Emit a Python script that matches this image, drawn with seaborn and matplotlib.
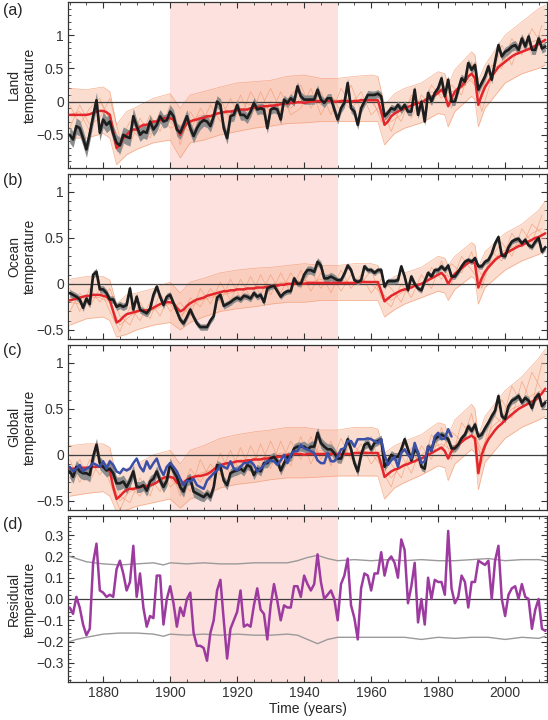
import numpy as np
import matplotlib
matplotlib.use("Agg")
import matplotlib.pyplot as plt
import seaborn as sns
from matplotlib.ticker import MultipleLocator, FuncFormatter, FixedLocator

sns.set_style("ticks")
plt.rcParams["font.family"] = ["Liberation Sans", "DejaVu Sans"]
plt.rcParams.update({
    "xtick.direction": "in",
    "ytick.direction": "in",
    "xtick.top": True,
    "ytick.right": True,
    "xtick.major.size": 4,
    "ytick.major.size": 4,
    "xtick.minor.size": 2,
    "ytick.minor.size": 2,
    "xtick.major.width": 0.8,
    "ytick.major.width": 0.8,
    "xtick.minor.width": 0.6,
    "ytick.minor.width": 0.6,
    "axes.linewidth": 0.9,
    "axes.edgecolor": "#333333",
    "xtick.color": "#333333",
    "ytick.color": "#333333",
    "font.size": 10,
})

# ---- data -------------------------------------------------------------
years = np.arange(1870, 2013)          # annual, 1870-2012
blue_years = np.arange(1870, 1985)     # second global estimate ends 1984
member_years = np.arange(1870, 2012, 3)

# observed land (a)
land_obs = [
    -0.50, -0.57, -0.37, -0.40, -0.55, -0.72, -0.48, -0.22, 0.02, -0.47,
    -0.27, -0.35, -0.30, -0.48, -0.62, -0.66, -0.50, -0.53, -0.55, -0.22,
    -0.37, -0.50, -0.45, -0.47, -0.30, -0.42, -0.35, -0.22, -0.30, -0.28,
    -0.15, -0.22, -0.42, -0.47, -0.35, -0.22, -0.40, -0.52, -0.40, -0.32,
    -0.28, -0.30, -0.37, -0.22, 0.00, -0.05, -0.40, -0.55, -0.22, -0.20,
    -0.05, -0.20, -0.20, -0.25, -0.15, -0.02, -0.12, -0.10, -0.12, -0.40,
    -0.12, -0.10, -0.12, -0.27, 0.03, -0.02, 0.05, 0.00, 0.23, 0.08,
    0.03, 0.03, 0.03, 0.03, 0.18, 0.03, -0.02, 0.05, 0.05, -0.12,
    -0.27, -0.10, -0.02, 0.28, -0.10, -0.15, -0.35, -0.10, 0.00, 0.10,
    0.10, 0.10, 0.12, 0.08, -0.22, -0.17, -0.10, -0.12, -0.05, -0.12,
    -0.05, -0.15, -0.15, 0.18, -0.20, 0.00, -0.30, 0.13, 0.00, 0.13,
    0.20, 0.35, 0.08, 0.33, 0.00, 0.00, 0.18, 0.35, 0.30, 0.58,
    0.48, 0.55, 0.18, 0.28, 0.38, 0.53, 0.33, 0.60, 0.85, 0.68,
    0.75, 0.78, 0.83, 0.85, 0.78, 0.95, 0.83, 0.98, 0.78, 0.78,
    0.95, 0.80, 0.83,
]
land_mean = [
    -0.20, -0.20, -0.20, -0.20, -0.20, -0.20, -0.19, -0.17, -0.15, -0.14,
    -0.14, -0.16, -0.20, -0.45, -0.70, -0.65, -0.55, -0.50, -0.45, -0.42,
    -0.42, -0.38, -0.35, -0.35, -0.33, -0.30, -0.30, -0.28, -0.25, -0.25,
    -0.25, -0.27, -0.40, -0.50, -0.40, -0.33, -0.30, -0.28, -0.27, -0.25,
    -0.25, -0.22, -0.22, -0.20, -0.18, -0.17, -0.16, -0.15, -0.15, -0.14,
    -0.13, -0.12, -0.12, -0.12, -0.10, -0.09, -0.08, -0.08, -0.07, -0.07,
    -0.06, -0.06, -0.05, -0.04, -0.03, -0.03, -0.02, -0.02, -0.01, -0.01,
    -0.02, -0.01, 0.00, 0.00, 0.01, 0.00, 0.00, 0.01, 0.01, 0.00,
    0.00, 0.01, 0.01, 0.01, 0.00, 0.01, 0.01, 0.02, 0.02, 0.02,
    0.02, 0.02, 0.02, -0.15, -0.35, -0.30, -0.22, -0.18, -0.15, -0.12,
    -0.10, -0.08, -0.06, -0.04, -0.02, -0.02, 0.02, 0.05, 0.07, 0.10,
    0.13, 0.18, 0.10, -0.07, 0.05, 0.15, 0.20, 0.23, 0.30, 0.38,
    0.42, 0.35, -0.05, 0.10, 0.22, 0.30, 0.38, 0.45, 0.52, 0.56,
    0.60, 0.64, 0.68, 0.71, 0.73, 0.75, 0.77, 0.79, 0.81, 0.84,
    0.87, 0.90, 0.93,
]
# observed ocean (b)
ocean_obs = [
    -0.10, -0.12, -0.14, -0.17, -0.26, -0.16, -0.22, 0.10, 0.13, -0.06,
    -0.06, -0.10, -0.17, -0.17, -0.25, -0.23, -0.25, -0.23, -0.05, -0.28,
    -0.14, -0.28, -0.30, -0.32, -0.27, -0.12, -0.03, -0.14, -0.23, -0.14,
    -0.12, -0.21, -0.30, -0.39, -0.43, -0.36, -0.28, -0.36, -0.43, -0.47,
    -0.47, -0.47, -0.40, -0.35, -0.15, -0.12, -0.24, -0.22, -0.20, -0.17,
    -0.15, -0.17, -0.13, -0.14, -0.16, -0.10, -0.14, -0.12, -0.20, -0.05,
    -0.03, -0.02, -0.08, -0.14, -0.10, -0.08, -0.08, 0.06, 0.00, 0.00,
    0.10, 0.15, 0.15, 0.13, 0.24, 0.20, 0.06, 0.06, 0.08, 0.06,
    0.04, 0.04, 0.11, 0.20, 0.15, 0.04, 0.02, 0.04, 0.19, 0.15,
    0.15, 0.12, 0.15, 0.15, -0.03, 0.03, 0.03, 0.03, 0.04, 0.19,
    0.08, -0.07, 0.08, 0.00, -0.05, -0.07, 0.03, 0.12, 0.08, 0.15,
    0.15, 0.19, 0.15, 0.20, 0.08, 0.08, 0.13, 0.19, 0.24, 0.26,
    0.24, 0.28, 0.19, 0.19, 0.24, 0.26, 0.33, 0.44, 0.51, 0.31,
    0.30, 0.40, 0.46, 0.48, 0.49, 0.44, 0.48, 0.42, 0.40, 0.46,
    0.50, 0.35, 0.40,
]
ocean_mean = [
    -0.18, -0.17, -0.16, -0.15, -0.14, -0.13, -0.13, -0.12, -0.12, -0.12,
    -0.13, -0.14, -0.18, -0.30, -0.42, -0.40, -0.36, -0.33, -0.32, -0.31,
    -0.30, -0.29, -0.29, -0.29, -0.28, -0.26, -0.24, -0.22, -0.21, -0.20,
    -0.20, -0.21, -0.26, -0.30, -0.28, -0.24, -0.21, -0.19, -0.17, -0.16,
    -0.15, -0.13, -0.12, -0.11, -0.10, -0.09, -0.08, -0.08, -0.07, -0.07,
    -0.06, -0.06, -0.06, -0.05, -0.05, -0.05, -0.04, -0.04, -0.04, -0.03,
    -0.03, -0.02, -0.02, -0.01, -0.01, 0.00, 0.00, 0.00, 0.01, 0.01,
    0.00, 0.01, 0.01, 0.01, 0.01, 0.01, 0.01, 0.01, 0.01, 0.01,
    0.01, 0.01, 0.01, 0.01, 0.01, 0.01, 0.02, 0.02, 0.02, 0.02,
    0.02, 0.02, 0.02, -0.08, -0.19, -0.16, -0.13, -0.11, -0.09, -0.07,
    -0.06, -0.05, -0.04, -0.02, -0.01, 0.00, 0.02, 0.04, 0.06, 0.08,
    0.10, 0.12, 0.08, 0.00, 0.06, 0.11, 0.14, 0.17, 0.20, 0.23,
    0.25, 0.22, -0.04, 0.06, 0.13, 0.18, 0.22, 0.26, 0.29, 0.31,
    0.33, 0.35, 0.37, 0.39, 0.41, 0.42, 0.44, 0.46, 0.48, 0.50,
    0.51, 0.53, 0.55,
]
# observed global (c), black and blue estimates
global_obs = [
    -0.18, -0.24, -0.13, -0.18, -0.20, -0.20, -0.22, -0.02, 0.11, -0.09,
    -0.13, -0.17, -0.15, -0.20, -0.31, -0.31, -0.29, -0.35, -0.28, -0.18,
    -0.35, -0.35, -0.33, -0.39, -0.29, -0.26, -0.18, -0.28, -0.35, -0.28,
    -0.09, -0.18, -0.24, -0.35, -0.40, -0.28, -0.26, -0.40, -0.42, -0.44,
    -0.46, -0.42, -0.46, -0.35, -0.11, -0.13, -0.28, -0.33, -0.20, -0.18,
    -0.17, -0.15, -0.18, -0.11, -0.13, -0.22, -0.15, -0.18, -0.09, -0.09,
    -0.04, -0.02, -0.07, -0.17, -0.09, -0.02, -0.02, 0.07, 0.09, 0.09,
    0.09, 0.06, 0.09, 0.09, 0.24, 0.13, 0.09, 0.06, 0.06, 0.02,
    -0.04, -0.04, 0.06, 0.17, 0.06, -0.09, -0.18, 0.00, 0.11, 0.13,
    0.06, 0.13, 0.15, 0.17, -0.13, -0.07, 0.00, -0.02, -0.02, 0.06,
    0.17, 0.06, -0.06, 0.06, 0.02, -0.13, -0.15, 0.09, 0.06, 0.17,
    0.20, 0.22, 0.20, 0.17, 0.07, 0.07, 0.11, 0.18, 0.22, 0.31,
    0.26, 0.33, 0.20, 0.22, 0.29, 0.35, 0.42, 0.48, 0.64, 0.42,
    0.39, 0.53, 0.59, 0.61, 0.64, 0.57, 0.62, 0.59, 0.51, 0.62,
    0.66, 0.53, 0.57,
]
global_obs_alt = [
    -0.13, -0.18, -0.15, -0.11, -0.18, -0.15, -0.13, -0.09, -0.11, -0.13,
    -0.07, -0.15, -0.07, -0.11, -0.18, -0.20, -0.15, -0.17, -0.15, -0.09,
    -0.04, -0.13, -0.18, -0.07, -0.15, -0.09, -0.04, -0.15, -0.22, -0.13,
    -0.09, -0.13, -0.18, -0.26, -0.33, -0.28, -0.29, -0.26, -0.33, -0.35,
    -0.37, -0.28, -0.24, -0.20, -0.17, -0.11, -0.13, -0.15, -0.07, -0.15,
    -0.17, -0.13, -0.09, -0.09, -0.07, -0.11, -0.18, -0.15, -0.11, -0.07,
    -0.06, -0.07, -0.11, -0.06, 0.00, -0.09, 0.00, 0.04, 0.04, 0.11,
    0.07, 0.06, 0.04, 0.02, -0.06, -0.09, -0.09, 0.02, -0.07, -0.07,
    -0.02, 0.06, 0.07, 0.15, 0.15, 0.09, 0.17, 0.17, 0.17, 0.18,
    0.17, 0.15, 0.13, 0.17, 0.00, -0.11, -0.06, -0.02, -0.13, 0.02,
    0.06, 0.00, -0.04, 0.13, 0.02, -0.09, -0.07, 0.09, 0.04, 0.20,
    0.24, 0.17, 0.18, 0.28, 0.20,
]
global_mean = [
    -0.15, -0.15, -0.15, -0.15, -0.14, -0.14, -0.14, -0.13, -0.13, -0.13,
    -0.13, -0.14, -0.18, -0.35, -0.48, -0.45, -0.41, -0.38, -0.37, -0.37,
    -0.36, -0.35, -0.34, -0.34, -0.33, -0.32, -0.30, -0.27, -0.25, -0.24,
    -0.24, -0.25, -0.30, -0.33, -0.30, -0.27, -0.25, -0.24, -0.23, -0.23,
    -0.22, -0.21, -0.19, -0.16, -0.13, -0.11, -0.10, -0.09, -0.09, -0.08,
    -0.07, -0.07, -0.07, -0.06, -0.06, -0.05, -0.05, -0.05, -0.04, -0.04,
    -0.03, -0.03, -0.02, -0.02, -0.01, 0.00, 0.00, 0.01, 0.01, 0.01,
    0.00, 0.01, 0.01, 0.01, 0.01, 0.01, 0.01, 0.01, 0.01, 0.01,
    0.01, 0.01, 0.01, 0.01, 0.01, 0.02, 0.02, 0.02, 0.02, 0.02,
    0.02, 0.02, 0.02, -0.10, -0.24, -0.21, -0.18, -0.16, -0.15, -0.13,
    -0.11, -0.10, -0.08, -0.07, -0.05, -0.04, -0.02, 0.00, 0.02, 0.04,
    0.06, 0.08, 0.04, -0.04, 0.04, 0.08, 0.11, 0.14, 0.17, 0.19,
    0.21, 0.18, -0.20, 0.00, 0.10, 0.17, 0.22, 0.27, 0.31, 0.34,
    0.38, 0.41, 0.44, 0.47, 0.50, 0.52, 0.54, 0.56, 0.58, 0.60,
    0.63, 0.67, 0.72,
]
# observational uncertainty half-width, one value per decade (1870s..2010s)
land_unc = [0.12, 0.12, 0.10, 0.10, 0.09, 0.08, 0.07, 0.07, 0.07, 0.06,
            0.06, 0.06, 0.06, 0.07, 0.07]
ocean_unc = [0.04, 0.04, 0.04, 0.035, 0.035, 0.035, 0.03, 0.045, 0.03, 0.03,
             0.03, 0.03, 0.03, 0.03, 0.03]
global_unc = [0.07, 0.07, 0.06, 0.06, 0.05, 0.05, 0.05, 0.06, 0.05, 0.045,
              0.04, 0.04, 0.04, 0.04, 0.04]

# spread of the model ensemble
env_years = [1870, 1875, 1880, 1882, 1884, 1887, 1890, 1895, 1900, 1903,
             1906, 1910, 1915, 1920, 1925, 1930, 1935, 1940, 1945, 1950,
             1955, 1960, 1962, 1964, 1967, 1970, 1975, 1980, 1982, 1983,
             1985, 1990, 1991, 1992, 1994, 2000, 2005, 2010, 2012]
land_lo = [-0.55, -0.55, -0.48, -0.55, -0.95, -0.80, -0.72, -0.62, -0.58, -0.85,
           -0.62, -0.58, -0.50, -0.45, -0.40, -0.37, -0.33, -0.32, -0.30, -0.30,
           -0.30, -0.30, -0.30, -0.65, -0.48, -0.40, -0.32, -0.18, -0.20, -0.38,
           -0.15, 0.08, 0.02, -0.38, -0.10, 0.28, 0.42, 0.50, 0.55]
land_hi = [0.20, 0.18, 0.22, 0.15, -0.35, -0.15, -0.08, 0.05, 0.12, -0.10,
           0.10, 0.15, 0.22, 0.28, 0.30, 0.32, 0.38, 0.40, 0.35, 0.35,
           0.38, 0.40, 0.38, -0.05, 0.12, 0.20, 0.28, 0.45, 0.42, 0.25,
           0.48, 0.75, 0.70, 0.32, 0.55, 1.00, 1.20, 1.40, 1.45]
ocean_lo = [-0.45, -0.38, -0.36, -0.40, -0.58, -0.55, -0.50, -0.45, -0.42, -0.50,
            -0.42, -0.36, -0.30, -0.27, -0.25, -0.22, -0.20, -0.20, -0.18, -0.18,
            -0.18, -0.18, -0.18, -0.36, -0.28, -0.22, -0.15, -0.08, -0.10, -0.18,
            -0.06, 0.08, 0.05, -0.22, -0.04, 0.15, 0.25, 0.32, 0.35]
ocean_hi = [0.05, 0.08, 0.08, 0.04, -0.22, -0.12, -0.10, -0.05, 0.02, -0.10,
            0.02, 0.06, 0.12, 0.15, 0.17, 0.18, 0.20, 0.22, 0.20, 0.20,
            0.22, 0.22, 0.20, 0.00, 0.08, 0.12, 0.18, 0.30, 0.28, 0.20,
            0.30, 0.45, 0.42, 0.18, 0.35, 0.55, 0.65, 0.80, 0.90]
global_lo = [-0.45, -0.42, -0.40, -0.45, -0.62, -0.60, -0.56, -0.52, -0.48, -0.58,
             -0.48, -0.44, -0.36, -0.32, -0.30, -0.27, -0.25, -0.25, -0.24, -0.23,
             -0.23, -0.23, -0.23, -0.48, -0.36, -0.30, -0.22, -0.12, -0.14, -0.28,
             -0.10, 0.06, 0.02, -0.38, -0.08, 0.18, 0.30, 0.38, 0.42]
global_hi = [0.10, 0.12, 0.12, 0.08, -0.25, -0.15, -0.10, 0.00, 0.05, -0.10,
             0.05, 0.10, 0.18, 0.22, 0.25, 0.27, 0.30, 0.30, 0.27, 0.27,
             0.30, 0.30, 0.28, 0.02, 0.10, 0.15, 0.22, 0.35, 0.33, 0.22,
             0.38, 0.55, 0.50, 0.20, 0.42, 0.70, 0.85, 1.05, 1.15]

# a few individual ensemble members (every third year)
land_members = [
    [-0.05, -0.35, -0.10, 0.05, -0.30, -0.80, -0.40, -0.55, -0.20, -0.45,
     -0.05, -0.65, -0.15, -0.40, -0.05, -0.30, 0.05, -0.25, 0.15, -0.10,
     0.20, -0.15, 0.10, 0.25, -0.10, 0.15, -0.20, 0.20, -0.05, 0.15,
     -0.20, -0.05, -0.45, -0.05, -0.25, 0.10, -0.05, 0.35, -0.10, 0.40,
     0.30, 0.15, 0.55, 0.50, 0.95, 0.70, 1.10, 0.85],
    [-0.40, -0.05, -0.35, -0.25, 0.05, -0.55, -0.65, -0.25, -0.50, -0.15,
     -0.40, -0.35, -0.45, -0.10, -0.35, 0.05, -0.30, 0.10, -0.25, 0.15,
     -0.20, 0.15, -0.20, -0.10, 0.20, -0.20, 0.10, -0.15, 0.25, -0.15,
     0.10, -0.30, -0.10, -0.30, 0.10, -0.15, 0.25, 0.05, 0.25, 0.10,
     0.60, -0.15, 0.35, 0.85, 0.55, 1.00, 0.70, 1.15],
    [-0.20, -0.15, -0.45, 0.00, -0.25, -0.60, -0.30, -0.35, -0.55, -0.20,
     -0.30, -0.45, -0.30, -0.20, -0.25, -0.15, -0.20, 0.00, -0.05, -0.20,
     0.00, -0.05, -0.10, 0.05, 0.10, -0.05, 0.05, 0.00, -0.10, 0.05,
     0.00, -0.20, -0.30, -0.20, 0.05, -0.05, 0.15, 0.10, 0.15, 0.20,
     0.35, 0.05, 0.45, 0.60, 0.75, 0.80, 0.90, 0.95],
]
ocean_members = [
    [-0.30, -0.10, -0.25, -0.05, -0.30, -0.52, -0.25, -0.40, -0.20, -0.35,
     -0.10, -0.40, -0.15, -0.25, -0.05, -0.20, 0.05, -0.15, 0.08, -0.12,
     0.10, -0.10, 0.12, -0.05, 0.15, -0.05, 0.12, -0.08, 0.10, 0.00,
     0.15, -0.15, -0.25, 0.00, -0.15, 0.10, -0.05, 0.25, 0.00, 0.30,
     0.15, 0.00, 0.35, 0.25, 0.55, 0.40, 0.65, 0.55],
    [-0.05, -0.30, -0.05, -0.20, -0.05, -0.35, -0.45, -0.20, -0.38, -0.10,
     -0.30, -0.20, -0.35, -0.05, -0.22, 0.02, -0.18, 0.05, -0.15, 0.10,
     -0.12, 0.12, -0.10, 0.15, -0.08, 0.12, -0.10, 0.15, -0.05, 0.10,
     -0.10, 0.05, -0.05, -0.20, 0.08, -0.10, 0.18, 0.05, 0.22, 0.12,
     0.35, -0.05, 0.30, 0.45, 0.30, 0.60, 0.45, 0.75],
    [-0.20, -0.22, -0.15, -0.15, -0.20, -0.45, -0.35, -0.30, -0.30, -0.25,
     -0.22, -0.35, -0.25, -0.18, -0.15, -0.12, -0.10, -0.05, -0.05, 0.00,
     -0.05, 0.02, 0.00, 0.05, 0.02, 0.05, 0.00, 0.05, 0.00, 0.05,
     0.00, -0.10, -0.18, -0.10, -0.02, 0.00, 0.08, 0.10, 0.08, 0.18,
     0.25, 0.10, 0.25, 0.35, 0.40, 0.45, 0.55, 0.60],
]
global_members = [
    [-0.25, -0.05, -0.30, -0.05, -0.30, -0.60, -0.35, -0.45, -0.25, -0.40,
     -0.10, -0.45, -0.15, -0.30, -0.10, -0.22, 0.05, -0.20, 0.10, -0.12,
     0.15, -0.10, 0.15, -0.05, 0.20, -0.05, 0.15, -0.10, 0.15, 0.00,
     0.20, -0.15, -0.35, 0.00, -0.20, 0.10, -0.05, 0.30, -0.05, 0.35,
     0.20, 0.00, 0.45, 0.35, 0.75, 0.55, 0.90, 0.70],
    [-0.05, -0.30, -0.05, -0.22, -0.05, -0.45, -0.52, -0.25, -0.45, -0.12,
     -0.35, -0.25, -0.40, -0.05, -0.28, 0.02, -0.22, 0.08, -0.18, 0.12,
     -0.15, 0.15, -0.12, 0.20, -0.10, 0.15, -0.12, 0.18, -0.05, 0.12,
     -0.10, 0.05, -0.10, -0.25, 0.08, -0.15, 0.22, 0.05, 0.25, 0.15,
     0.45, -0.10, 0.35, 0.60, 0.40, 0.80, 0.55, 1.00],
    [-0.18, -0.20, -0.15, -0.12, -0.22, -0.50, -0.40, -0.35, -0.33, -0.28,
     -0.25, -0.38, -0.28, -0.20, -0.17, -0.12, -0.10, -0.05, -0.05, 0.00,
     -0.03, 0.02, 0.00, 0.05, 0.02, 0.05, 0.00, 0.05, 0.00, 0.05,
     0.02, -0.12, -0.25, -0.12, -0.05, 0.00, 0.08, 0.12, 0.05, 0.20,
     0.28, 0.05, 0.30, 0.40, 0.50, 0.55, 0.65, 0.70],
]

# residual (d) and its 5-95% range
residual = [
    -0.04, -0.07, 0.01, -0.04, -0.12, -0.17, -0.14, 0.17, 0.26, 0.04,
    0.03, 0.01, 0.02, 0.01, 0.14, 0.18, 0.12, 0.04, 0.08, 0.25,
    0.01, 0.12, -0.04, -0.13, -0.08, -0.09, 0.11, 0.11, -0.12, 0.00,
    0.06, -0.02, -0.13, -0.04, -0.08, 0.00, 0.03, -0.16, -0.22, -0.22,
    -0.23, -0.29, -0.16, -0.10, 0.04, 0.09, -0.10, -0.28, -0.14, -0.10,
    -0.06, 0.04, -0.13, -0.12, -0.13, -0.03, 0.05, -0.05, -0.07, -0.19,
    -0.03, 0.07, -0.01, -0.10, -0.03, -0.04, -0.04, 0.06, 0.06, 0.01,
    0.11, 0.07, 0.04, 0.07, 0.21, 0.08, 0.00, 0.02, 0.04, 0.00,
    -0.10, 0.07, 0.11, 0.19, -0.03, -0.09, -0.19, 0.05, 0.12, 0.11,
    0.04, 0.12, 0.12, 0.22, 0.11, 0.18, 0.20, 0.17, 0.10, 0.28,
    0.23, -0.02, 0.06, 0.17, -0.11, 0.00, -0.12, 0.10, 0.00, 0.09,
    0.08, 0.08, 0.02, 0.32, 0.05, -0.02, 0.01, 0.11, 0.08, -0.04,
    0.08, 0.08, 0.18, 0.17, 0.16, 0.18, 0.00, 0.18, 0.25, 0.00,
    -0.08, 0.02, 0.05, 0.06, 0.00, 0.07, 0.01, 0.00, -0.14, -0.05,
    0.00, -0.14, -0.15,
]
bound_years = [1870, 1872, 1875, 1880, 1885, 1890, 1895, 1898, 1900, 1905,
               1910, 1915, 1920, 1925, 1930, 1935, 1938, 1941, 1944, 1947,
               1950, 1955, 1960, 1965, 1970, 1975, 1980, 1985, 1990, 1995,
               2000, 2005, 2010, 2012]
bound_hi = [0.20, 0.19, 0.175, 0.165, 0.16, 0.165, 0.17, 0.16, 0.17, 0.165,
            0.17, 0.165, 0.165, 0.17, 0.17, 0.17, 0.18, 0.195, 0.205, 0.19,
            0.18, 0.185, 0.18, 0.185, 0.18, 0.185, 0.18, 0.18, 0.185, 0.19,
            0.18, 0.185, 0.185, 0.18]
bound_lo = [-0.20, -0.19, -0.18, -0.165, -0.16, -0.16, -0.165, -0.175, -0.165, -0.17,
            -0.165, -0.17, -0.165, -0.17, -0.17, -0.165, -0.17, -0.19, -0.21, -0.19,
            -0.18, -0.18, -0.18, -0.18, -0.18, -0.19, -0.18, -0.185, -0.18, -0.18,
            -0.19, -0.18, -0.185, -0.175]

# ---- styling ----------------------------------------------------------
PINK = "#fde1de"
ENS_FILL = "#f8bda2"
ENS_LINE = "#f29266"
GREY = "#8d8d8d"
RED = "#e3262b"
BLACK = "#1d1d1d"
BLUE = "#3a4fa6"
PURPLE = "#9d3a9f"


def fmt(v, _):
    v = round(v, 6)
    if v == 0:
        return "0"
    return f"{v:g}".replace("-", "\u2212")


def fmt1(v, _):
    v = round(v, 6)
    if v == 0:
        return "0.0"
    return f"{v:.1f}".replace("-", "\u2212")


fig = plt.figure(figsize=(5.48, 7.2), dpi=100)


def make_axes(top, bottom):
    return fig.add_axes([68 / 548, 1 - bottom / 720, 479 / 548, (bottom - top) / 720])


def side_label(top, bottom, text):
    fig.text(22 / 548, 1 - (top + bottom) / 2 / 720, text, rotation=90,
             ha="center", va="center", multialignment="center",
             fontsize=10, linespacing=1.2)


def base(ax, ylim, yticks, yminor, formatter):
    ax.axvspan(1900, 1950, color=PINK, lw=0, zorder=0)
    ax.axhline(0, color="#404040", lw=0.9, zorder=3)
    ax.set_xlim(1869.5, 2012.5)
    ax.set_ylim(*ylim)
    ax.xaxis.set_major_locator(FixedLocator([1880, 1900, 1920, 1940, 1960, 1980, 2000]))
    ax.xaxis.set_minor_locator(MultipleLocator(5))
    ax.yaxis.set_major_locator(FixedLocator(yticks))
    ax.yaxis.set_minor_locator(MultipleLocator(yminor))
    ax.yaxis.set_major_formatter(FuncFormatter(formatter))
    ax.tick_params(which="both", top=True, right=True, direction="in", labelsize=10, pad=3)
    ax.set_ylabel("")
    for s in ax.spines.values():
        s.set_visible(True)


def temp_panel(ax, obs, mean, unc, lo, hi, members, ylim):
    base(ax, ylim, [-0.5, 0, 0.5, 1], 0.1, fmt)
    ax.fill_between(env_years, lo, hi, color=ENS_FILL, alpha=0.5, lw=0, zorder=1)
    sns.lineplot(x=env_years, y=lo, ax=ax, color=ENS_LINE, lw=0.5, alpha=0.7, zorder=2)
    sns.lineplot(x=env_years, y=hi, ax=ax, color=ENS_LINE, lw=0.5, alpha=0.7, zorder=2)
    for m in members:
        sns.lineplot(x=member_years, y=m, ax=ax, color=ENS_LINE, lw=0.5, alpha=0.7, zorder=2)
    half = np.repeat(unc, 10)[: len(years)]
    obs = np.asarray(obs)
    ax.fill_between(years, obs - half, obs + half, color=GREY, lw=0, zorder=4)
    sns.lineplot(x=years, y=mean, ax=ax, color=RED, lw=1.8, zorder=5)
    sns.lineplot(x=years, y=obs, ax=ax, color=BLACK, lw=1.9, zorder=6)
    ax.set_ylabel("")
    ax.set_xlabel("")
    ax.tick_params(axis="x", labelbottom=False)


ax_a = make_axes(2, 168)
temp_panel(ax_a, land_obs, land_mean, land_unc, land_lo, land_hi, land_members, (-1.0, 1.5))
side_label(2, 168, "Land\ntemperature")

ax_b = make_axes(173.6, 339)
temp_panel(ax_b, ocean_obs, ocean_mean, ocean_unc, ocean_lo, ocean_hi, ocean_members, (-0.6, 1.2))
side_label(173.6, 339, "Ocean\ntemperature")

ax_c = make_axes(344.6, 510)
temp_panel(ax_c, global_obs, global_mean, global_unc, global_lo, global_hi, global_members,
           (-0.6, 1.2))
sns.lineplot(x=blue_years, y=global_obs_alt, ax=ax_c, color=BLUE, lw=1.8, zorder=7)
ax_c.set_ylabel("")
side_label(344.6, 510, "Global\ntemperature")

ax_d = make_axes(516, 682)
base(ax_d, (-0.39, 0.39), [-0.3, -0.2, -0.1, 0.0, 0.1, 0.2, 0.3], 0.02, fmt1)
sns.lineplot(x=bound_years, y=bound_hi, ax=ax_d, color="#9a9a9a", lw=1.0, zorder=4)
sns.lineplot(x=bound_years, y=bound_lo, ax=ax_d, color="#9a9a9a", lw=1.0, zorder=4)
sns.lineplot(x=years, y=residual, ax=ax_d, color=PURPLE, lw=1.8, zorder=6)
ax_d.set_ylabel("")
ax_d.set_xlabel("Time (years)", fontsize=10, labelpad=1)
side_label(516, 682, "Residual\ntemperature")

for lab, ypix in [("(a)", 11), ("(b)", 180), ("(c)", 350), ("(d)", 525)]:
    fig.text(3 / 548, 1 - ypix / 720, lab, fontsize=11.5, ha="left", va="center")

fig.savefig("out.png", dpi=100)
